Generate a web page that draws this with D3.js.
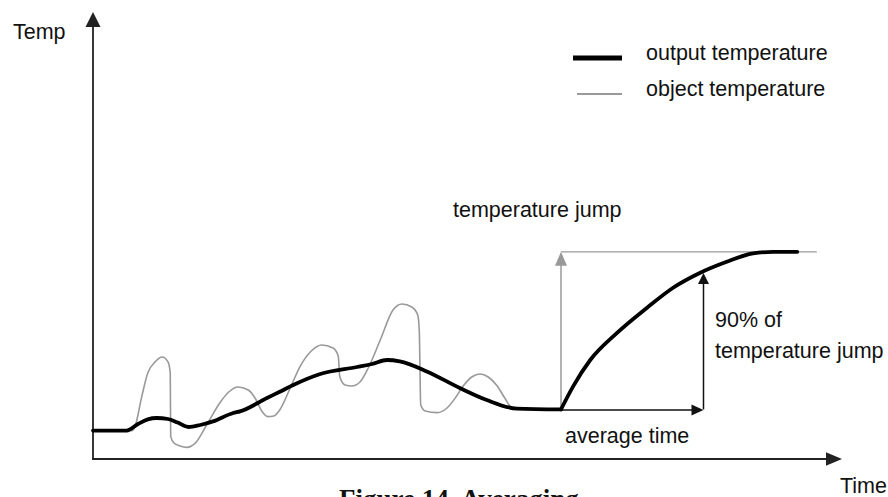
<!DOCTYPE html>
<html><head><meta charset="utf-8">
<script src="https://cdn.jsdelivr.net/npm/d3@7/dist/d3.min.js"></script>
<style>
html,body{margin:0;padding:0;background:#fff;overflow:hidden;}
svg{display:block;}
text{font-family:"Liberation Sans",Arial,sans-serif;fill:#111;}
</style></head>
<body>
<svg id="chart" width="888" height="497"></svg>
<script>
// Output temperature (averaged), [time, temp]
const outputTime = [0,4.5,6.0,7.3,8.5,10.0,11.3,12.7,14.3,16.0,18.7,19.6,23.2,24.9,26.7,30.3,35.2,37.2,39.2,40.9,44.5,48.9,52.5,56.5,62.4,64.0,66.3,69.8,73.8,77.3,80.9,84.5,88.0,90.7,93.9];
const outputTemp = [7.1,7.1,8.75,9.9,10.25,10.0,9.1,8.0,8.5,9.4,11.5,11.9,15.25,16.8,18.5,21.25,23.0,23.75,24.75,24.4,21.9,17.75,14.75,12.6,12.4,18.1,24.75,31.4,37.7,42.75,46.5,49.3,51.4,51.8,51.8];
// Object temperature (raw)
const objectTime = [0,5.2,5.6,6.5,7.3,8.3,9.2,10.0,10.3,10.36,10.8,11.6,12.5,13.6,15.3,16.9,18.1,19.3,20.7,21.6,22.5,23.3,24.1,24.9,26.3,27.6,29.1,30.5,32.0,32.7,32.9,33.6,34.5,35.6,36.7,38.3,40.0,41.2,42.5,43.3,43.5,43.7,44.3,45.9,47.2,48.3,49.3,50.5,51.6,52.7,53.9,54.9,56.0,62.4];
const objectTemp = [7.1,7.1,8.1,15.6,21.5,24.3,25.5,24.3,21.5,5.6,4.0,3.25,2.9,3.9,9.0,14.0,16.75,18.0,17.25,15.25,12.0,10.6,10.75,12.25,17.75,23.1,27.0,28.5,27.75,25.75,20.6,18.5,18.25,19.25,22.75,29.75,37.25,38.75,38.0,36.0,32.25,13.5,12.0,11.6,12.75,15.25,18.1,20.5,21.25,20.5,18.25,15.25,12.6,12.4];
// Annotation values
const jumpStart = 62.4, jumpBase = 12.4, jumpTop = 51.8, jumpLineEnd = 96.5;
const avgTime = 81.4, temp90 = 46.5;
const xAxisMax = 100, yAxisMax = 111.75;
const labels = {
  yAxis: "Temp", xAxis: "Time",
  legend: ["output temperature", "object temperature"],
  jump: "temperature jump", ninety: ["90% of", "temperature jump"],
  avg: "average time", caption: "Figure 14. Averaging"
};

const svg = d3.select("#chart");
const x = d3.scaleLinear().domain([0, 100]).range([93, 843]);
const y = d3.scaleLinear().domain([0, 100]).range([459, 59]);

const GRAY = "#999";
const AX = "#222";

function arrowHead(tipX, tipY, dir, len, half, color) {
  let pts;
  if (dir === "up") pts = [[tipX, tipY], [tipX - half, tipY + len], [tipX + half, tipY + len]];
  else pts = [[tipX, tipY], [tipX - len, tipY - half], [tipX - len, tipY + half]];
  svg.append("path").attr("d", "M" + pts.map(p => p.join(",")).join("L") + "Z").attr("fill", color);
}

// Axes
svg.append("line").attr("x1", x(0)).attr("y1", y(0)).attr("x2", x(0)).attr("y2", y(yAxisMax) + 14)
  .attr("stroke", AX).attr("stroke-width", 1.8);
arrowHead(x(0), y(yAxisMax), "up", 15, 7.5, AX);
svg.append("line").attr("x1", x(0) - 1).attr("y1", y(0)).attr("x2", x(xAxisMax) - 15).attr("y2", y(0))
  .attr("stroke", AX).attr("stroke-width", 2);
arrowHead(x(xAxisMax) - 1, y(0), "right", 16, 6.7, AX);

const line = d3.line().x(d => x(d[0])).y(d => y(d[1])).curve(d3.curveMonotoneX);

// Object temperature (gray thin)
const objData = objectTime.map((t, i) => [t, objectTemp[i]]);
svg.append("path").datum(objData).attr("d", line).attr("fill", "none")
  .attr("stroke", GRAY).attr("stroke-width", 1.6);

// Jump annotation gray lines
svg.append("line").attr("x1", x(jumpStart)).attr("y1", y(jumpBase)).attr("x2", x(jumpStart)).attr("y2", y(jumpTop) + 13)
  .attr("stroke", GRAY).attr("stroke-width", 1.5);
arrowHead(x(jumpStart), y(jumpTop), "up", 14, 6, GRAY);
svg.append("line").attr("x1", x(jumpStart)).attr("y1", y(jumpTop)).attr("x2", x(jumpLineEnd)).attr("y2", y(jumpTop))
  .attr("stroke", GRAY).attr("stroke-width", 1.3);

// Black arrows (90% and average time)
svg.append("line").attr("x1", x(avgTime)).attr("y1", y(jumpBase)).attr("x2", x(avgTime)).attr("y2", y(temp90) + 10)
  .attr("stroke", "#111").attr("stroke-width", 1.5);
arrowHead(x(avgTime), y(temp90), "up", 11, 5.5, "#111");
svg.append("line").attr("x1", x(jumpStart)).attr("y1", y(jumpBase) + 0.5).attr("x2", x(avgTime) - 11).attr("y2", y(jumpBase) + 0.5)
  .attr("stroke", "#111").attr("stroke-width", 1.5);
arrowHead(x(avgTime), y(jumpBase) + 0.5, "right", 12, 5.5, "#111");

// Output temperature (black thick), drawn in two pieces so the jump starts with a corner
const outData = outputTime.map((t, i) => [t, outputTemp[i]]);
const split = outputTime.indexOf(jumpStart);
[outData.slice(0, split + 1), outData.slice(split)].forEach(seg => {
  svg.append("path").datum(seg).attr("d", line).attr("fill", "none")
    .attr("stroke", "#000").attr("stroke-width", 3.8)
    .attr("stroke-linejoin", "round").attr("stroke-linecap", "round");
});

// Legend
svg.append("line").attr("x1", 573).attr("x2", 622).attr("y1", 58).attr("y2", 58)
  .attr("stroke", "#000").attr("stroke-width", 5);
svg.append("line").attr("x1", 577).attr("x2", 622).attr("y1", 94).attr("y2", 94)
  .attr("stroke", "#777").attr("stroke-width", 1.4);
const fs = "21.5px";
svg.append("text").attr("x", 646).attr("y", 60).style("font-size", fs).text(labels.legend[0]);
svg.append("text").attr("x", 646).attr("y", 96).style("font-size", fs).text(labels.legend[1]);

// Axis labels
svg.append("text").attr("x", 13).attr("y", 39).style("font-size", fs).text(labels.yAxis);
svg.append("text").attr("x", 840).attr("y", 493).style("font-size", fs).text(labels.xAxis);

// Annotation text
svg.append("text").attr("x", 453).attr("y", 217).style("font-size", fs).text(labels.jump);
svg.append("text").attr("x", 715).attr("y", 327).style("font-size", fs).text(labels.ninety[0]);
svg.append("text").attr("x", 715).attr("y", 358).style("font-size", fs).text(labels.ninety[1]);
svg.append("text").attr("x", 565).attr("y", 443).style("font-size", fs).text(labels.avg);

// Caption (partially cut off at bottom, as in the reference)
svg.append("text").attr("x", 339).attr("y", 508)
  .style("font-family", "'Liberation Serif','Times New Roman',serif").style("font-weight", "bold")
  .style("font-size", "27px").text(labels.caption);
</script>
</body></html>
